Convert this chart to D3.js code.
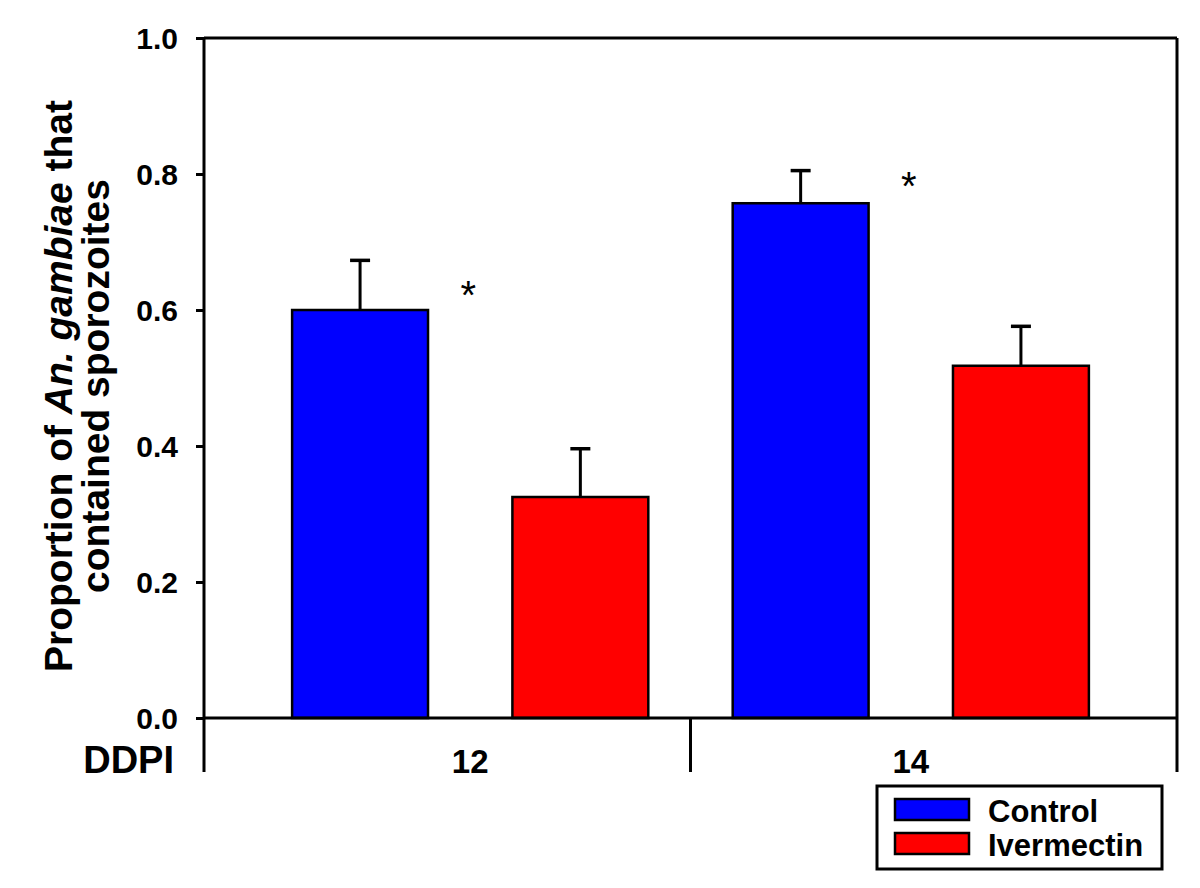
<!DOCTYPE html>
<html>
<head>
<meta charset="utf-8">
<script src="https://cdn.jsdelivr.net/npm/d3@7"></script>
<style>
  body { margin: 0; background: #fff; }
  svg { display: block; font-family: "Liberation Sans", Arial, sans-serif; }
  .axis path, .axis line { stroke: #000; stroke-width: 3; }
</style>
</head>
<body>
<svg id="chart" width="1200" height="888"></svg>
<script>
//

const days = ['12', '14']
const seriesNames = ['Control', 'Ivermectin']
const seriesColors = ['#0000ff', '#ff0000']
const controlMeans = [0.600, 0.757]
const controlErrors = [0.073, 0.048]
const ivermectinMeans = [0.325, 0.518]
const ivermectinErrors = [0.071, 0.058]
const yTicks = [0, 0.2, 0.4, 0.6, 0.8, 1.0]
const starLevels = [0.630, 0.789]

//

const margin = {top: 38, right: 23, bottom: 170, left: 204}
const width = 1200 - margin.left - margin.right
const height = 888 - margin.top - margin.bottom

const svg = d3.select('#chart')
const g = svg.append('g')
  .attr('transform', 'translate(' + margin.left + ',' + margin.top + ')')

// one flat row of bars: day x series
const bars = []
days.forEach(function (day, i) {
  bars.push({day: day, series: 0, mean: controlMeans[i], err: controlErrors[i]})
  bars.push({day: day, series: 1, mean: ivermectinMeans[i], err: ivermectinErrors[i]})
})
const barKey = function (d) { return d.day + '-' + d.series }

const x = d3.scaleBand()
  .domain(bars.map(barKey))
  .range([0, width])
  .paddingInner(0.383)
  .paddingOuter(0.4)

const y = d3.scaleLinear()
  .domain([0, 1])
  .range([height, 0])

// frame: top and right
g.append('line')
  .attr('x1', 0).attr('x2', width)
  .attr('y1', 0).attr('y2', 0)
  .attr('stroke', '#000').attr('stroke-width', 3)

g.append('line')
  .attr('x1', width).attr('x2', width)
  .attr('y1', 0).attr('y2', height + 54)
  .attr('stroke', '#000').attr('stroke-width', 3)

// bars
g.selectAll('.bar')
  .data(bars)
  .enter().append('rect')
  .attr('class', 'bar')
  .attr('x', function (d) { return x(barKey(d)) })
  .attr('y', function (d) { return y(d.mean) })
  .attr('width', x.bandwidth())
  .attr('height', function (d) { return y(0) - y(d.mean) })
  .attr('fill', function (d) { return seriesColors[d.series] })
  .attr('stroke', '#000')
  .attr('stroke-width', 2.5)

// upper error bars
const errs = g.selectAll('.err')
  .data(bars)
  .enter().append('g')
  .attr('class', 'err')
  .attr('transform', function (d) { return 'translate(' + (x(barKey(d)) + x.bandwidth() / 2) + ',0)' })

errs.append('line')
  .attr('y1', function (d) { return y(d.mean) })
  .attr('y2', function (d) { return y(d.mean + d.err) })
  .attr('stroke', '#000').attr('stroke-width', 3)

errs.append('line')
  .attr('x1', -10).attr('x2', 10)
  .attr('y1', function (d) { return y(d.mean + d.err) })
  .attr('y2', function (d) { return y(d.mean + d.err) })
  .attr('stroke', '#000').attr('stroke-width', 3.5)

// significance stars, centred over each day group
const groupCenter = function (day) {
  return (x(day + '-0') + x(day + '-1') + x.bandwidth()) / 2
}

g.selectAll('.star')
  .data(days)
  .enter().append('text')
  .attr('class', 'star')
  .attr('x', function (d) { return groupCenter(d) - 2 })
  .attr('y', function (d, i) { return y(starLevels[i]) + 19 })
  .attr('text-anchor', 'middle')
  .style('font-size', '40px')
  .text('*')

// y axis
const yAxis = d3.axisLeft(y)
  .tickValues(yTicks)
  .tickFormat(d3.format('.1f'))
  .tickSize(8)
  .tickSizeOuter(0)
  .tickPadding(18)

const yAxisG = g.append('g')
  .attr('class', 'axis')
  .call(yAxis)

yAxisG.select('.domain').remove()
yAxisG.selectAll('text')
  .style('font-size', '30px')
  .style('font-weight', 'bold')
  .attr('fill', '#000')
  .attr('dy', '0.36em')

g.append('line')
  .attr('x1', 0).attr('x2', 0)
  .attr('y1', 0).attr('y2', height + 54)
  .attr('stroke', '#000').attr('stroke-width', 3)

// baseline
g.append('line')
  .attr('x1', 0).attr('x2', width)
  .attr('y1', height).attr('y2', height)
  .attr('stroke', '#000').attr('stroke-width', 3)

// category row under the axis
const divider = (x(days[0] + '-1') + x.bandwidth() + x(days[1] + '-0')) / 2
g.append('line')
  .attr('x1', divider).attr('x2', divider)
  .attr('y1', height).attr('y2', height + 54)
  .attr('stroke', '#000').attr('stroke-width', 3)

g.selectAll('.day')
  .data(days)
  .enter().append('text')
  .attr('class', 'day')
  .attr('x', function (d) { return groupCenter(d) })
  .attr('y', height + 55)
  .attr('text-anchor', 'middle')
  .style('font-size', '33px')
  .style('font-weight', 'bold')
  .text(function (d) { return d })

g.append('text')
  .attr('x', -30)
  .attr('y', height + 55)
  .attr('text-anchor', 'end')
  .style('font-size', '38px')
  .style('font-weight', 'bold')
  .text('DDPI')

// y title
const title = svg.append('text')
  .attr('transform', 'translate(72,386) rotate(-90)')
  .attr('text-anchor', 'middle')
  .style('font-size', '39px')
  .style('font-weight', 'bold')

title.append('tspan').attr('x', 0).attr('dy', 0).text('Proportion of ')
title.append('tspan').style('font-style', 'italic').text('An. gambiae')
title.append('tspan').text(' that')
title.append('tspan').attr('x', 0).attr('dy', 37).text('contained sporozoites')

// legend
const legend = svg.append('g')
  .attr('transform', 'translate(877,786)')

legend.append('rect')
  .attr('width', 285).attr('height', 83)
  .attr('fill', '#fff')
  .attr('stroke', '#000').attr('stroke-width', 3)

const items = legend.selectAll('.item')
  .data(seriesNames)
  .enter().append('g')
  .attr('class', 'item')
  .attr('transform', function (d, i) { return 'translate(18,' + (13 + i * 34) + ')' })

items.append('rect')
  .attr('width', 74).attr('height', 21)
  .attr('fill', function (d, i) { return seriesColors[i] })
  .attr('stroke', '#000').attr('stroke-width', 2.5)

items.append('text')
  .attr('x', 93).attr('y', 23)
  .style('font-size', '31px')
  .style('font-weight', 'bold')
  .text(function (d) { return d })
</script>
</body>
</html>
